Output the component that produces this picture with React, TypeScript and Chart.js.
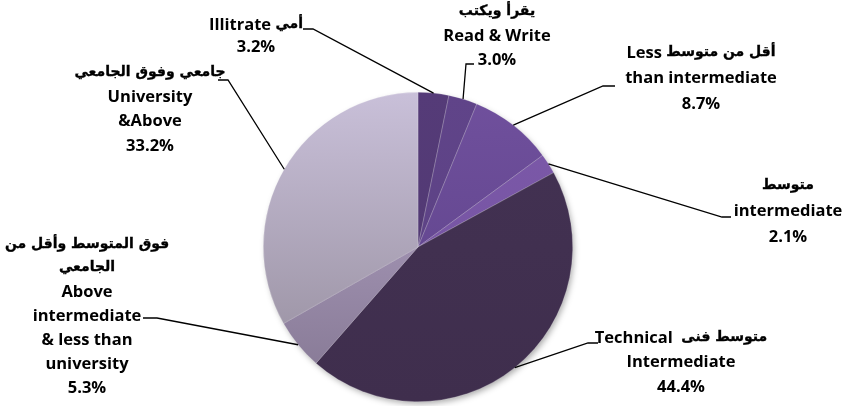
import { useEffect, useRef } from "react";
import { Chart, registerables } from "chart.js";

Chart.register(...registerables);

// ---- data ----
const categories = [
  "Illitrate",
  "Read & Write",
  "Less than intermediate",
  "intermediate",
  "Technical Intermediate",
  "Above intermediate & less than university",
  "University &Above",
];
const shares = [3.2, 3.0, 8.7, 2.1, 44.4, 5.3, 33.2];
const labelTexts = [
  ["Illitrate أمي"],
  ["يقرأ ويكتب", "Read & Write"],
  ["Less أقل من متوسط", "than intermediate"],
  ["متوسط", "intermediate"],
  ["Technical  متوسط فنى", "Intermediate"],
  ["فوق المتوسط وأقل من", "الجامعي", "Above", "intermediate", "& less than", "university"],
  ["جامعي وفوق الجامعي", "University", "&Above"],
];

// ---- styles ----
const gradTop = ["#553b78", "#604489", "#70509d", "#7c59a9", "#433253", "#b8a8cb", "#c9c0d9"];
const gradBottom = ["#4f3870", "#5a4182", "#5b4187", "#7352a0", "#3f2e4d", "#837691", "#928a99"];

// label layout: text centre x, first line y, line step, elbow point, end point
const labelLayout = [
  { cx: 256, y0: 25, step: 22, elbow: [313, 29], end: [303, 29] },
  { cx: 497, y0: 12, step: 24, elbow: [466, 64], end: [474, 64] },
  { cx: 701, y0: 53, step: 25.5, elbow: [603, 86], end: [615, 86] },
  { cx: 788, y0: 186, step: 25.5, elbow: [722, 217], end: [731, 217] },
  { cx: 681, y0: 338, step: 24.5, elbow: [588, 343], end: [598, 343] },
  { cx: 87, y0: 245, step: 23.8, elbow: [157, 318], end: [143, 318] },
  { cx: 150, y0: 73, step: 24.3, elbow: [228, 80], end: [218, 80] },
];

const LATIN_FONT = "700 16.5px 'Open Sans', sans-serif";
const ARABIC_FONT = "bold 14px 'DejaVu Sans', sans-serif";
const ARABIC_RUN = /[\u0600-\u06FF]+(?:\s+[\u0600-\u06FF]+)*/g;

function splitRuns(t: string) {
  const runs: { t: string; ar: boolean }[] = [];
  let last = 0;
  t.replace(ARABIC_RUN, (m: string, off: number) => {
    if (off > last) runs.push({ t: t.slice(last, off), ar: false });
    runs.push({ t: m, ar: true });
    last = off + m.length;
    return m;
  });
  if (last < t.length) runs.push({ t: t.slice(last), ar: false });
  return runs;
}

const shadowPlugin = {
  id: "pieShadow",
  beforeDatasetsDraw(chart: any) {
    const meta = chart.getDatasetMeta(0);
    const arc = meta.data[0];
    if (!arc) return;
    const { x, y, outerRadius } = arc.getProps(["x", "y", "outerRadius"], true);
    const ctx = chart.ctx;
    ctx.save();
    ctx.shadowColor = "rgba(0,0,0,0.35)";
    ctx.shadowBlur = 6;
    ctx.shadowOffsetX = 2;
    ctx.shadowOffsetY = 3;
    ctx.fillStyle = "#6a5a78";
    ctx.beginPath();
    ctx.arc(x, y, outerRadius - 1, 0, Math.PI * 2);
    ctx.fill();
    ctx.restore();
  },
};

const labelPlugin = {
  id: "calloutLabels",
  afterDatasetsDraw(chart: any) {
    const ctx = chart.ctx;
    const meta = chart.getDatasetMeta(0);
    meta.data.forEach((arc: any, i: number) => {
      const p = arc.getProps(["x", "y", "outerRadius", "startAngle", "endAngle"], true);
      const mid = (p.startAngle + p.endAngle) / 2;
      const ax = p.x + Math.cos(mid) * p.outerRadius;
      const ay = p.y + Math.sin(mid) * p.outerRadius;
      const L = labelLayout[i];
      ctx.save();
      ctx.strokeStyle = "#000";
      ctx.lineWidth = 1.3;
      ctx.beginPath();
      ctx.moveTo(ax, ay);
      ctx.lineTo(L.elbow[0], L.elbow[1]);
      ctx.lineTo(L.end[0], L.end[1]);
      ctx.stroke();
      const lines = [...labelTexts[i], shares[i].toFixed(1) + "%"];
      ctx.fillStyle = "#000";
      ctx.strokeStyle = "#000";
      ctx.lineWidth = 0.35;
      ctx.textAlign = "left";
      ctx.textBaseline = "middle";
      ctx.direction = "ltr";
      lines.forEach((t, k) => {
        const runs = splitRuns(t);
        const widths = runs.map((r) => {
          ctx.font = r.ar ? ARABIC_FONT : LATIN_FONT;
          return ctx.measureText(r.t).width;
        });
        const total = widths.reduce((a, b) => a + b, 0);
        let x = L.cx - total / 2;
        runs.forEach((r, j) => {
          ctx.font = r.ar ? ARABIC_FONT : LATIN_FONT;
          const yy = L.y0 + k * L.step + (r.ar ? -1 : 0);
          ctx.fillText(r.t, x, yy);
          if (r.ar) ctx.strokeText(r.t, x, yy);
          x += widths[j];
        });
      });
      ctx.restore();
    });
  },
};

export default function App() {
  const ref = useRef<HTMLCanvasElement | null>(null);
  useEffect(() => {
    document.body.style.margin = "0";
    const canvas = ref.current!;
    const chart = new Chart(canvas, {
      type: "pie",
      data: {
        labels: categories,
        datasets: [
          {
            data: shares,
            backgroundColor: (c: any) => {
              const i = c.dataIndex;
              const area = c.chart.chartArea;
              if (!area) return gradTop[i];
              const g = c.chart.ctx.createLinearGradient(0, area.top, 0, area.bottom);
              g.addColorStop(0, gradTop[i]);
              g.addColorStop(1, gradBottom[i]);
              return g;
            },
            borderColor: "rgba(255,255,255,0.35)",
            borderWidth: 0.6,
          },
        ],
      },
      options: {
        responsive: false,
        animation: false,
        layout: { padding: { top: 92, bottom: 4, left: 0, right: 10 } },
        plugins: {
          legend: { display: false },
          tooltip: { enabled: false },
        },
      },
      plugins: [shadowPlugin, labelPlugin],
    });
    return () => chart.destroy();
  }, []);
  return (
    <div style={{ position: "absolute", left: 0, top: 0, width: 846, height: 406, background: "#fff" }}>
      <canvas ref={ref} width={846} height={406} />
    </div>
  );
}
